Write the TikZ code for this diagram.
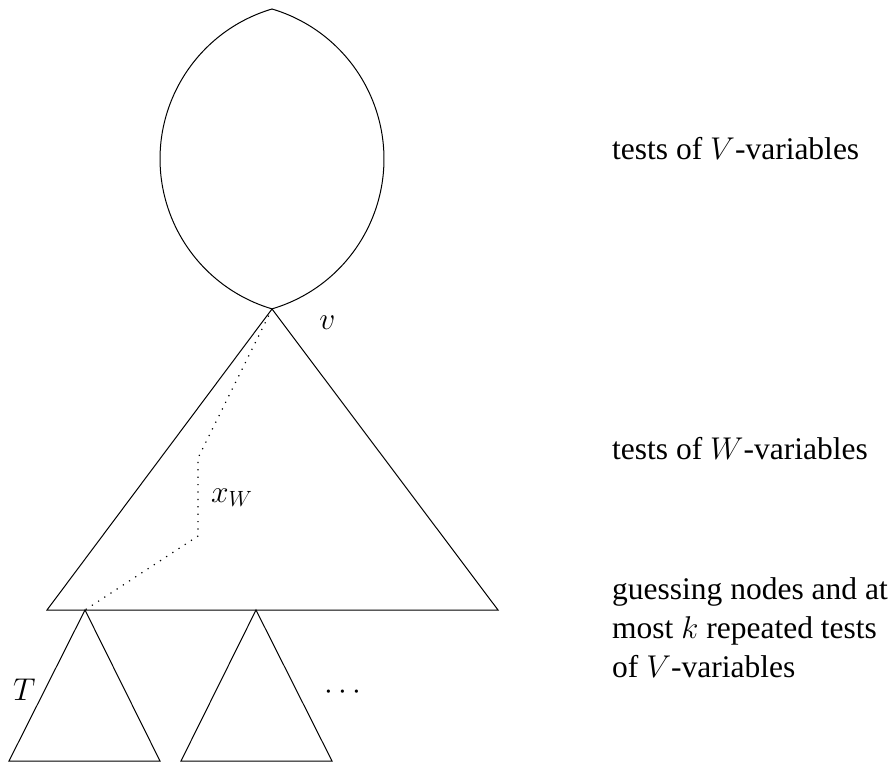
\RequirePackage{fix-cm}
\documentclass[tikz,border=0pt]{standalone}
\usepackage{fontspec}
\setmainfont{Liberation Serif}
\tikzset{
  shape line/.style={line width=1pt, line join=miter},
  path line/.style={line width=1.2pt, dash pattern=on 1.2pt off 6.2pt},
  lbl/.style={inner sep=0pt, font=\fontsize{31.5}{39}\selectfont},
  side/.style={lbl, anchor=base west, align=left}
}
\begin{document}
\begin{tikzpicture}[x=1pt,y=1pt]
\useasboundingbox (0,0) rectangle (896,769);
% lens
\coordinate (lenstop) at (272,760);
\coordinate (v) at (272,460);
\draw[shape line] (lenstop) arc[start angle=106.51, end angle=253.49, radius=156.4]
  arc[start angle=-73.49, end angle=73.49, radius=156.4] -- cycle;
% big triangle
\coordinate (bl) at (47,159);
\coordinate (br) at (498,159);
\draw[shape line] (v) -- (bl) -- (br) -- cycle;
% dotted path
\coordinate (p1) at (198,311);
\coordinate (p2) at (198,233);
\coordinate (t1) at (85,159);
\draw[path line] (v) -- (p1) -- (p2) -- (t1);
% small triangles
\coordinate (t2) at (256,159);
\coordinate (t1l) at (9,8);
\coordinate (t1r) at (160,8);
\coordinate (t2l) at (181,8);
\coordinate (t2r) at (332,8);
\draw[shape line] (t1) -- (t1l) -- (t1r) -- cycle;
\draw[shape line] (t2) -- (t2l) -- (t2r) -- cycle;
% labels
\node[lbl, anchor=base] (vlab) at (327.5,439) {$v$};
\node[lbl, anchor=base west] (xw) at (211,267) {$x_W$};
\node[lbl, anchor=base west] (T) at (13,69) {$T$};
\node[lbl, anchor=base] (dots) at (343,70) {$\cdots$};
\node[side] (lv) at (612,609) {tests of $V$-variables};
\node[side] (lw) at (612,310) {tests of $W$-variables};
\node[side] (lg) at (612,92) {guessing nodes and at\\most $k$ repeated tests\\of $V$-variables};
\end{tikzpicture}
\end{document}
